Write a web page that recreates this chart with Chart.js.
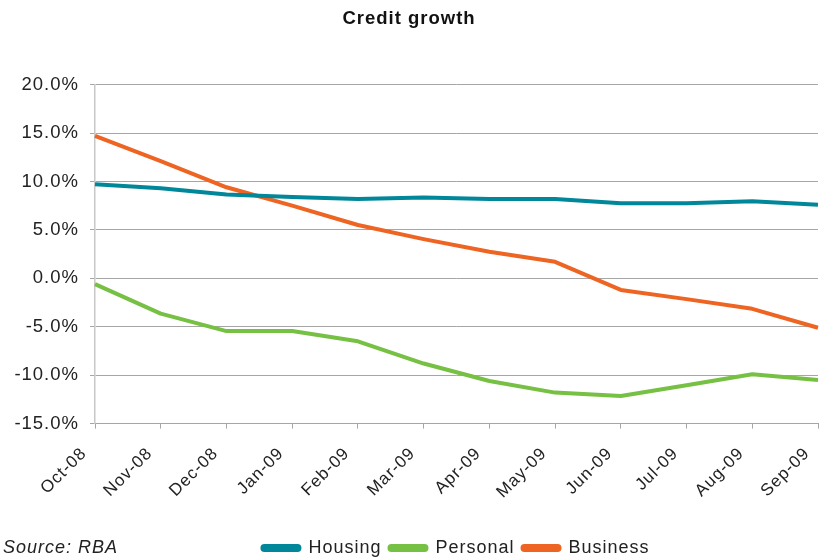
<!DOCTYPE html>
<html>
<head>
<meta charset="utf-8">
<script src="https://cdn.jsdelivr.net/npm/chart.js@4/dist/chart.umd.min.js"></script>
<style>
  html, body { margin: 0; padding: 0; background: #fff; }
  #wrap { position: relative; width: 819px; height: 558px; }
  #source { position: absolute; left: 3px; top: 536px; font: italic 18px "Liberation Sans", Arial, sans-serif; letter-spacing: 1px; color: #222; line-height: 22px; }
</style>
</head>
<body>
<div id="wrap">
  <canvas id="c"></canvas>
  <div id="source">Source: RBA</div>
</div>
<script>
const categories = ["Oct-08","Nov-08","Dec-08","Jan-09","Feb-09","Mar-09","Apr-09","May-09","Jun-09","Jul-09","Aug-09","Sep-09"];
const housing  = [9.7, 9.3, 8.65, 8.4, 8.2, 8.35, 8.2, 8.2, 7.75, 7.75, 7.95, 7.6];
const personal = [-0.6, -3.65, -5.45, -5.45, -6.5, -8.8, -10.6, -11.8, -12.15, -11.05, -9.9, -10.5];
const business = [14.7, 12.1, 9.4, 7.5, 5.5, 4.05, 2.75, 1.7, -1.2, -2.15, -3.15, -5.1];
const seriesNames = ["Housing", "Personal", "Business"];
const yTicks = [-15, -10, -5, 0, 5, 10, 15, 20];

const spacingPlugin = {
  id: 'spacing',
  beforeUpdate(chart) { chart.ctx.letterSpacing = '1px'; },
  beforeLayout(chart) { chart.ctx.letterSpacing = '1px'; },
  afterLayout(chart) {
    if (chart.legend) { chart.legend.left += 47; chart.legend.right += 47; }
  },
  beforeDraw(chart) { chart.ctx.letterSpacing = '1px'; }
};

const textColor = '#222';
new Chart(document.getElementById('c'), {
  type: 'line',
  data: {
    labels: categories,
    datasets: [
      { label: seriesNames[0], data: housing, borderColor: '#00879a', backgroundColor: '#00879a' },
      { label: seriesNames[1], data: personal, borderColor: '#76c043', backgroundColor: '#76c043' },
      { label: seriesNames[2], data: business, borderColor: '#ee6423', backgroundColor: '#ee6423' }
    ]
  },
  options: {
    responsive: true,
    maintainAspectRatio: false,
    animation: false,
    devicePixelRatio: 1,
    elements: {
      line: { borderWidth: 4, tension: 0, borderCapStyle: 'butt', borderJoinStyle: 'round' },
      point: { radius: 0, hoverRadius: 0 }
    },
    layout: { padding: { left: 0, right: 1, top: 0, bottom: -9 } },
    plugins: {
      tooltip: { enabled: false },
      title: {
        display: true,
        text: 'Credit growth',
        color: '#111',
        font: { family: '"Liberation Sans", Arial, sans-serif', size: 18.5, weight: 'bold' },
        padding: { top: 8, bottom: 54.4 }
      },
      legend: {
        display: true,
        position: 'bottom',
        labels: {
          color: textColor,
          font: { family: '"Liberation Sans", Arial, sans-serif', size: 18 },
          boxWidth: 37,
          boxHeight: 4,
          useBorderRadius: true,
          borderRadius: 2,
          padding: 8
        }
      }
    },
    scales: {
      x: {
        type: 'category',
        offset: false,
        grid: { display: true, drawOnChartArea: false, drawTicks: true, tickLength: 5, color: '#a6a6a6', tickColor: '#a6a6a6' },
        border: { display: true, color: '#a6a6a6', width: 1 },
        ticks: {
          color: textColor,
          font: { family: '"Liberation Sans", Arial, sans-serif', size: 17 },
          minRotation: 45, maxRotation: 45,
          autoSkip: false,
          padding: 15,
          labelOffset: -11
        },
        afterFit(scale) { scale.height = 107.4; scale.paddingRight = 0; scale.paddingLeft = 0; }
      },
      y: {
        min: -15, max: 20,
        afterBuildTicks(scale) { scale.ticks = yTicks.map(v => ({ value: v })); },
        grid: { color: '#a6a6a6', lineWidth: 1, drawTicks: true, tickLength: 5, tickColor: '#a6a6a6' },
        border: { display: true, color: '#c8c8c8', width: 1.5 },
        ticks: {
          color: textColor,
          font: { family: '"Liberation Sans", Arial, sans-serif', size: 18.5 },
          padding: 11,
          callback: (v) => Number(v).toFixed(1) + '%'
        },
        afterFit(scale) { scale.width = 95; }
      }
    }
  },
  plugins: [spacingPlugin]
});
</script>
</body>
</html>
